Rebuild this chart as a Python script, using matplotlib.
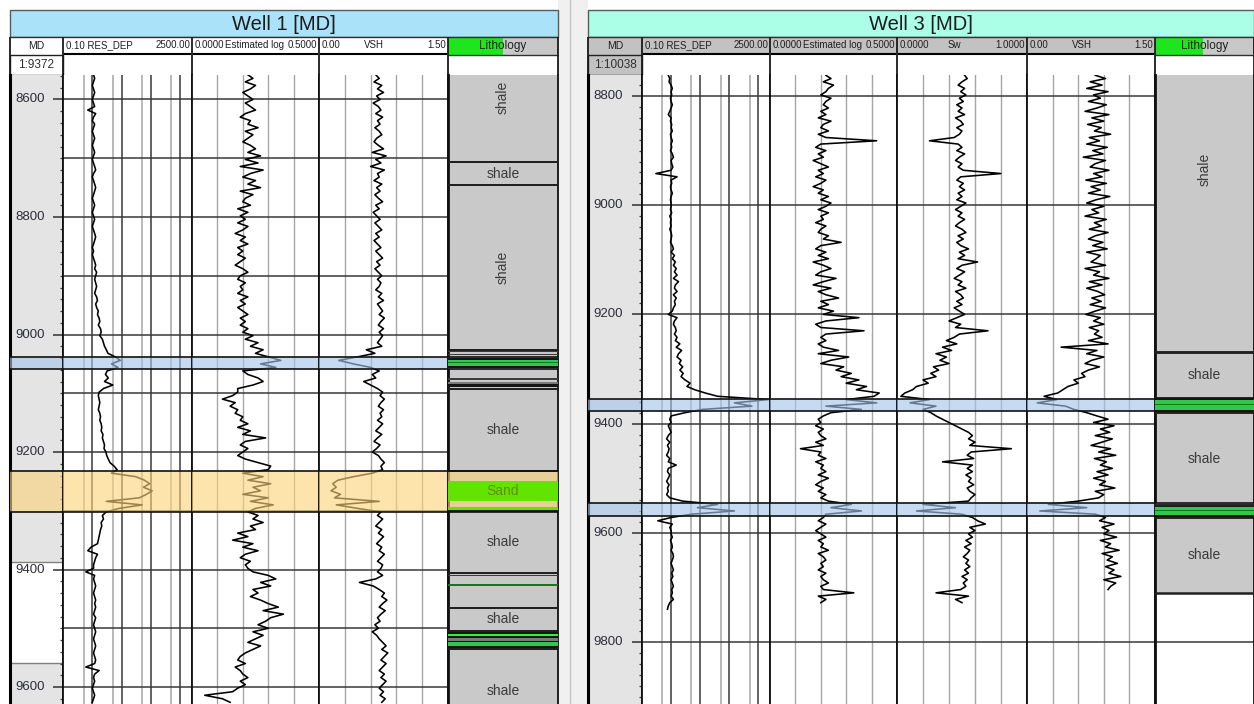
import numpy as np
import matplotlib.pyplot as plt
from matplotlib.patches import Rectangle
from matplotlib.ticker import MultipleLocator

plt.rcParams['font.family'] = ['Liberation Sans', 'DejaVu Sans']

nan = np.nan

# ---------------- Well 1 logs (one sample every 6 ft from 8558 ft) ----------------
w1_depth = list(range(8558, 9632, 6))
w1_res = [
    1.1, 1.2, 1.1, 1.0, 1.1, 1.2, 1.1, 1.0, 1.1, 1.2,
    0.7, 1.3, 1.1, 1.0, 1.2, 1.1, 1.0, 1.1, 1.2, 1.1,
    1.0, 1.1, 1.2, 1.1, 1.0, 1.1, 1.2, 1.3, 1.1, 1.0,
    1.1, 1.2, 1.3, 1.2, 1.1, 1.0, 1.1, 1.2, 1.1, 1.0,
    1.1, 1.2, 1.1, 1.0, 1.1, 1.2, 1.3, 1.2, 1.1, 1.0,
    1.1, 1.0, 1.1, 1.2, 1.3, 1.2, 1.4, 1.3, 1.2, 1.3,
    1.4, 1.3, 1.2, 1.4, 1.5, 1.3, 1.4, 1.6, 1.5, 1.7,
    1.8, 1.6, 1.9, 2.0, 1.8, 2.2, 2.4, 2.6, 3.0, 3.4,
    6.0, 9.0, 4.5, 7.5, 3.2, 2.8, 3.5, 2.6, 5.0, 2.4,
    1.7, 1.6, 1.7, 1.8, 1.7, 1.6, 1.8, 1.9, 1.8, 2.0,
    2.1, 2.0, 2.3, 2.2, 2.4, 2.6, 2.5, 2.9, 3.1, 3.5,
    4.0, 5.5, 7.0, 4.5, 30, 60, 90, 55, 110, 70,
    40, 3.0, 50, 8.0, 3.0, 2.2, 2.4, 2.0, 2.1, 1.9,
    1.8, 1.7, 1.6, 1.5, 0.9, 0.7, 1.5, 1.3, 1.2, 1.1,
    1.1, 0.6, 1.2, 1.1, 1.2, 1.3, 1.2, 1.1, 1.2, 1.3,
    1.2, 1.3, 1.2, 1.1, 1.3, 1.2, 1.1, 1.2, 1.3, 1.2,
    1.1, 1.2, 1.3, 1.2, 1.1, 1.2, 1.3, 1.2, 0.6, 1.7,
    1.2, 1.1, 1.2, 1.1, 1.0, 1.1, 1.2, 1.1, 1.0,
]
w1_est = [
    0.22, 0.24, 0.21, 0.25, 0.23, 0.20, 0.22, 0.24, 0.21, 0.23,
    0.25, 0.21, 0.19, 0.23, 0.22, 0.26, 0.21, 0.24, 0.22, 0.20,
    0.23, 0.25, 0.22, 0.27, 0.21, 0.26, 0.19, 0.28, 0.23, 0.20,
    0.25, 0.22, 0.27, 0.19, 0.24, 0.21, 0.20, 0.23, 0.18, 0.22,
    0.19, 0.21, 0.18, 0.22, 0.20, 0.17, 0.21, 0.19, 0.22, 0.18,
    0.20, 0.18, 0.21, 0.19, 0.17, 0.20, 0.22, 0.19, 0.18, 0.21,
    0.19, 0.20, 0.18, 0.22, 0.19, 0.21, 0.18, 0.20, 0.22, 0.19,
    0.21, 0.19, 0.22, 0.20, 0.24, 0.21, 0.26, 0.23, 0.28, 0.25,
    0.30, 0.35, 0.27, 0.33, 0.20, 0.22, 0.26, 0.28, 0.24, 0.18,
    0.18, 0.16, 0.12, 0.17, 0.15, 0.18, 0.17, 0.20, 0.19, 0.22,
    0.18, 0.23, 0.20, 0.29, 0.21, 0.19, 0.22, 0.20, 0.18, 0.21,
    0.26, 0.31, 0.30, 0.20, 0.28, 0.22, 0.31, 0.24, 0.27, 0.20,
    0.30, 0.23, 0.32, 0.25, 0.22, 0.26, 0.24, 0.28, 0.23, 0.25,
    0.18, 0.22, 0.16, 0.24, 0.20, 0.26, 0.21, 0.19, 0.23, 0.21,
    0.22, 0.24, 0.30, 0.33, 0.27, 0.31, 0.24, 0.26, 0.23, 0.27,
    0.30, 0.34, 0.28, 0.36, 0.31, 0.29, 0.26, 0.30, 0.24, 0.28,
    0.25, 0.22, 0.27, 0.24, 0.21, 0.19, 0.18, 0.21, 0.17, 0.19,
    0.20, 0.22, 0.19, 0.21, 0.18, 0.16, 0.05, 0.12, 0.15,
]
w1_vsh = [
    0.66, 0.70, 0.64, 0.73, 0.68, 0.75, 0.67, 0.71, 0.63, 0.69,
    0.72, 0.66, 0.74, 0.68, 0.71, 0.65, 0.70, 0.73, 0.67, 0.64,
    0.69, 0.75, 0.62, 0.78, 0.66, 0.72, 0.60, 0.76, 0.68, 0.70,
    0.64, 0.73, 0.67, 0.71, 0.65, 0.69, 0.74, 0.66, 0.70, 0.63,
    0.67, 0.71, 0.65, 0.69, 0.73, 0.66, 0.70, 0.64, 0.68, 0.72,
    0.66, 0.70, 0.74, 0.67, 0.71, 0.65, 0.69, 0.73, 0.68, 0.72,
    0.70, 0.66, 0.73, 0.69, 0.75, 0.68, 0.71, 0.74, 0.70, 0.76,
    0.72, 0.69, 0.75, 0.70, 0.74, 0.71, 0.68, 0.73, 0.55, 0.65,
    0.45, 0.23, 0.40, 0.60, 0.70, 0.62, 0.66, 0.52, 0.60, 0.68,
    0.74, 0.71, 0.76, 0.72, 0.69, 0.75, 0.71, 0.73, 0.68, 0.74,
    0.70, 0.66, 0.73, 0.68, 0.64, 0.71, 0.67, 0.62, 0.69, 0.72,
    0.76, 0.72, 0.74, 0.62, 0.40, 0.22, 0.16, 0.20, 0.14, 0.25,
    0.18, 0.70, 0.20, 0.45, 0.72, 0.68, 0.74, 0.70, 0.66, 0.73,
    0.69, 0.75, 0.71, 0.67, 0.73, 0.70, 0.76, 0.72, 0.68, 0.74,
    0.72, 0.68, 0.74, 0.66, 0.47, 0.63, 0.70, 0.76, 0.73, 0.79,
    0.74, 0.70, 0.77, 0.72, 0.68, 0.71, 0.65, 0.69, 0.62, 0.67,
    0.70, 0.74, 0.78, 0.73, 0.80, 0.76, 0.72, 0.78, 0.74, 0.70,
    0.76, 0.72, 0.78, 0.74, 0.70, 0.75, 0.71, 0.77, 0.73,
]

# ---------------- Well 3 logs (one sample every 6 ft from 8762 ft) ----------------
w3_depth = list(range(8762, 9746, 6))
w3_res = [
    0.8, 0.9, 0.85, 1.0, 1.1, 1.0, 1.05, 0.95, 1.0, 1.1,
    1.0, 0.9, 0.8, 1.0, 0.95, 1.05, 1.0, 1.1, 0.95, 1.0,
    1.1, 1.0, 1.05, 0.95, 1.1, 1.2, 1.0, 1.05, 1.15, 1.0,
    0.3, 1.6, 1.0, 1.05, 0.95, 1.0, 1.1, 1.0, 0.95, 1.0,
    1.0, 0.95, 1.05, 0.9, 1.0, 0.95, 1.0, 0.9, 1.0, 1.05,
    1.0, 0.95, 1.1, 1.2, 1.0, 1.3, 1.1, 1.4, 1.2, 1.5,
    1.3, 1.6, 1.2, 1.8, 1.4, 1.3, 1.6, 1.2, 1.5, 1.3,
    1.4, 1.2, 1.1, 0.8, 1.6, 1.3, 1.2, 1.4, 1.5, 1.3,
    1.6, 1.4, 2.0, 1.5, 2.3, 1.8, 1.6, 2.2, 1.9, 2.5,
    2.0, 2.6, 2.2, 3.0, 4.5, 3.5, 6.5, 15, 40, 2200,
    150, 600, 12, 3.0, 1.0, 0.9, 1.0, 0.8, 0.9, 1.0,
    0.8, 0.7, 0.9, 0.75, 0.85, 0.8, 0.7, 0.9, 0.8, 1.5,
    0.8, 0.75, 0.9, 0.8, 0.7, 0.85, 0.75, 0.8, 0.7, 0.9,
    2.5, 40, 8, 150, 5, 1.0, 0.35, 1.1, 0.9, 1.0,
    1.0, 1.1, 0.95, 1.05, 1.1, 1.0, 1.15, 1.2, 1.1, 1.0,
    1.1, 1.2, 1.05, 1.15, 1.0, 1.1, 1.2, 1.05, 1.1, 1.0,
    1.2, 0.9, 0.8, 0.75,
]
w3_est = [
    0.22, 0.24, 0.21, 0.25, 0.23, 0.22, 0.20, 0.24, 0.22, 0.21,
    0.23, 0.20, 0.22, 0.19, 0.24, 0.21, 0.20, 0.23, 0.19, 0.22,
    0.42, 0.20, 0.18, 0.22, 0.19, 0.21, 0.17, 0.20, 0.23, 0.19,
    0.21, 0.18, 0.22, 0.20, 0.17, 0.21, 0.19, 0.23, 0.20, 0.24,
    0.22, 0.19, 0.23, 0.20, 0.21, 0.18, 0.22, 0.20, 0.19, 0.23,
    0.21, 0.28, 0.20, 0.18, 0.22, 0.19, 0.23, 0.17, 0.21, 0.24,
    0.20, 0.18, 0.26, 0.21, 0.17, 0.24, 0.19, 0.22, 0.27, 0.20,
    0.23, 0.19, 0.25, 0.21, 0.35, 0.22, 0.18, 0.20, 0.37, 0.22,
    0.20, 0.22, 0.19, 0.21, 0.27, 0.19, 0.31, 0.24, 0.20, 0.29,
    0.26, 0.32, 0.28, 0.35, 0.30, 0.38, 0.34, 0.43, 0.41, 0.30,
    0.42, 0.22, 0.36, 0.24, 0.21, 0.19, 0.20, 0.18, 0.21, 0.19,
    0.20, 0.22, 0.18, 0.21, 0.12, 0.20, 0.19, 0.22, 0.18, 0.21,
    0.20, 0.22, 0.19, 0.23, 0.20, 0.18, 0.21, 0.19, 0.22, 0.20,
    0.23, 0.32, 0.24, 0.36, 0.22, 0.21, 0.19, 0.22, 0.20, 0.18,
    0.20, 0.22, 0.19, 0.21, 0.20, 0.23, 0.19, 0.21, 0.22, 0.20,
    0.21, 0.19, 0.22, 0.20, 0.21, 0.23, 0.20, 0.21, 0.33, 0.19,
    0.22, 0.20, nan, nan,
]
w3_sw = [
    0.52, 0.54, 0.50, 0.47, 0.52, 0.49, 0.53, 0.48, 0.51, 0.46,
    0.50, 0.47, 0.52, 0.45, 0.49, 0.51, 0.46, 0.50, 0.48, 0.44,
    0.25, 0.47, 0.50, 0.46, 0.52, 0.48, 0.45, 0.50, 0.47, 0.51,
    0.80, 0.49, 0.46, 0.51, 0.48, 0.52, 0.47, 0.50, 0.46, 0.53,
    0.49, 0.45, 0.50, 0.47, 0.52, 0.48, 0.45, 0.50, 0.53, 0.47,
    0.51, 0.46, 0.49, 0.55, 0.48, 0.52, 0.47, 0.62, 0.50, 0.46,
    0.52, 0.48, 0.44, 0.50, 0.47, 0.53, 0.45, 0.49, 0.51, 0.46,
    0.50, 0.44, 0.48, 0.52, 0.46, 0.40, 0.49, 0.45, 0.70, 0.48,
    0.44, 0.38, 0.46, 0.35, 0.42, 0.30, 0.38, 0.33, 0.40, 0.28,
    0.32, 0.26, 0.30, 0.20, 0.24, 0.15, 0.12, 0.06, 0.03, 0.25,
    0.10, 0.30, 0.20, 0.26, 0.30, 0.35, 0.40, 0.45, 0.50, 0.55,
    0.58, 0.55, 0.60, 0.56, 0.88, 0.57, 0.54, 0.59, 0.35, 0.58,
    0.54, 0.58, 0.53, 0.57, 0.55, 0.59, 0.54, 0.56, 0.60, 0.57,
    0.55, 0.20, 0.45, 0.15, 0.50, 0.58, 0.62, 0.68, 0.56, 0.60,
    0.55, 0.58, 0.53, 0.57, 0.52, 0.56, 0.54, 0.51, 0.55, 0.53,
    0.56, 0.52, 0.55, 0.50, 0.54, 0.51, 0.53, 0.49, 0.30, 0.55,
    0.45, 0.50, nan, nan,
]
w3_vsh = [
    0.80, 0.92, 0.74, 0.88, 0.70, 0.95, 0.78, 0.86, 0.72, 0.93,
    0.82, 0.68, 0.96, 0.76, 0.90, 0.71, 0.87, 0.79, 0.98, 0.73,
    0.85, 0.70, 0.94, 0.77, 0.89, 0.66, 0.92, 0.80, 0.74, 0.96,
    0.78, 0.88, 0.69, 0.93, 0.75, 0.86, 0.72, 0.97, 0.81, 0.70,
    0.90, 0.76, 0.84, 0.68, 0.93, 0.79, 0.87, 0.73, 0.95, 0.80,
    0.72, 0.89, 0.77, 0.94, 0.70, 0.86, 0.81, 0.75, 0.92, 0.68,
    0.85, 0.78, 0.96, 0.73, 0.88, 0.70, 0.83, 0.91, 0.76, 0.87,
    0.74, 0.92, 0.80, 0.69, 0.86, 0.78, 0.90, 0.73, 0.84, 0.79,
    0.88, 0.72, 0.95, 0.40, 0.82, 0.70, 0.90, 0.76, 0.68, 0.85,
    0.72, 0.64, 0.68, 0.55, 0.60, 0.48, 0.42, 0.36, 0.20, 0.35,
    0.12, 0.45, 0.55, 0.70, 0.82, 0.95, 0.78, 1.02, 0.86, 0.97,
    0.80, 1.00, 0.88, 0.75, 0.98, 0.84, 1.04, 0.79, 0.93, 0.86,
    1.00, 0.82, 0.95, 0.78, 0.92, 0.85, 1.03, 0.80, 0.90, 0.84,
    0.60, 0.25, 0.70, 0.15, 0.80, 0.92, 0.85, 1.02, 0.88, 0.96,
    0.90, 1.05, 0.86, 0.98, 0.92, 1.08, 0.88, 1.00, 0.94, 1.06,
    0.92, 1.02, 0.96, 1.10, 0.90, 1.04, 0.98, 0.95, nan, nan,
    nan, nan, nan, nan,
]

# ---------------- lithology columns ----------------
w1_lith_top = [8488, 8706, 8746, 9026, 9092, 9232, 9301, 9406, 9466, 9504, 9536]
w1_lith_base = [8706, 8746, 9026, 9092, 9232, 9301, 9406, 9466, 9504, 9536, 9676]
w1_lith_name = ['shale', 'shale', 'shale', '', 'shale', 'Sand', 'shale', '', 'shale', '', 'shale']

w1_bed_top = [9028, 9033, 9040, 9043, 9047, 9049, 9054, 9074, 9081, 9085,
              9249, 9293, 9410, 9425, 9506, 9509, 9513, 9516, 9521, 9524, 9530]
w1_bed_base = [9030, 9035, 9043, 9047, 9049, 9054, 9057, 9078, 9084, 9089,
               9284, 9299, 9411, 9428, 9509, 9513, 9516, 9521, 9524, 9530, 9534]
w1_bed_type = ['dark', 'dark', 'black', 'green', 'dkgreen', 'green', 'black', 'dark', 'mid', 'black',
               'sand', 'sand', 'dark', 'dkgreen', 'black', 'lime', 'black', 'mid', 'black', 'green', 'black']

w3_lith_top = [8601, 9269, 9353, 9379, 9549, 9571]
w3_lith_base = [9269, 9353, 9379, 9549, 9571, 9710]
w3_lith_name = ['shale', 'shale', '', 'shale', '', 'shale']

w3_bed_top = [9353, 9356, 9364, 9366, 9375, 9549, 9552, 9558, 9560, 9568]
w3_bed_base = [9356, 9364, 9366, 9375, 9379, 9552, 9558, 9560, 9568, 9571]
w3_bed_type = ['black', 'green', 'dkgreen', 'green', 'black',
               'black', 'green', 'dkgreen', 'green', 'black']

# highlighted zones
w1_zone_top = [9038, 9233]
w1_zone_base = [9059, 9302]
w1_zone_kind = ['blue', 'yellow']
w3_zone_top = [9355, 9545]
w3_zone_base = [9377, 9569]
w3_zone_kind = ['blue', 'blue']

# depth labels and shaded depth-column ranges
w1_md_labels = [8600, 8800, 9000, 9200, 9400, 9600]
w3_md_labels = [8800, 9000, 9200, 9400, 9600, 9800]
w1_md_shade = [(8500, 9388), (9559, 9700)]
w3_md_shade = [(8700, 9950)]

BED_COLORS = {'black': '#151515', 'dark': '#3c3c3c', 'mid': '#7a7a7a', 'green': '#2fc84a',
              'dkgreen': '#0f7a1e', 'lime': '#33f033', 'sand': '#62e400'}
ZONE_COLORS = {'blue': '#a4c6ea', 'yellow': '#fcd27a'}

W, H = 1254, 704
TOP = 75

fig = plt.figure(figsize=(W / 100, H / 100), dpi=100)
frame = fig.add_axes([0, 0, 1, 1], zorder=0)
frame.set_xlim(0, W)
frame.set_ylim(H, 0)
frame.axis('off')
frame.add_patch(Rectangle((558, 0), 30, H, fc='#f0f0f0', ec='none'))
frame.plot([570, 570], [0, H], color='#c4c4c4', lw=1)


def px_axes(x0, x1, y0=TOP, y1=H):
    return fig.add_axes([x0 / W, 1 - y1 / H, (x1 - x0) / W, (y1 - y0) / H], zorder=1)


def style_track(ax, dtop, dbot, step):
    ax.set_ylim(dbot, dtop)
    ax.yaxis.set_major_locator(MultipleLocator(step))
    ax.grid(True, which='major', axis='y', color='#383838', lw=1.1)
    for s in ('top', 'bottom'):
        ax.spines[s].set_visible(False)
    for s in ('left', 'right'):
        ax.spines[s].set_color('#101010')
        ax.spines[s].set_linewidth(1.3)
    ax.set_axisbelow(True)


def curve_track(x0, x1, depth, values, lo, hi, dtop, dbot, step, log=False):
    ax = px_axes(x0, x1)
    if log:
        ax.set_xscale('log')
    ax.set_xlim(lo, hi)
    style_track(ax, dtop, dbot, step)
    if log:
        ax.set_xticks([1, 10, 100, 1000])
        ax.set_xticks([0.5, 5, 50, 500], minor=True)
        ax.grid(True, which='major', axis='x', color='#383838', lw=1.1)
        ax.grid(True, which='minor', axis='x', color='#a6a6a6', lw=1.1)
    else:
        ax.set_xticks(np.linspace(lo, hi, 6)[1:-1])
        ax.grid(True, which='major', axis='x', color='#a6a6a6', lw=1.0)
    ax.tick_params(which='both', length=0, labelbottom=False, labelleft=False)
    ax.plot(values, depth, color='black', lw=1.15, zorder=2)
    return ax


def depth_track(x0, x1, dtop, dbot, labels, shade, label_x):
    ax = px_axes(x0, x1)
    ax.set_xlim(0, 1)
    ax.set_ylim(dbot, dtop)
    for a, b in shade:
        ax.axhspan(a, b, color='#e4e4e4', lw=0, zorder=0.5)
    # edges of the unshaded gap between shaded ranges
    for (a0, b0), (a1, b1) in zip(shade[:-1], shade[1:]):
        ax.axhline(b0, color='#808080', lw=1.0, zorder=1)
        ax.axhline(a1, color='#808080', lw=1.0, zorder=1)
    ax.yaxis.tick_right()
    ax.yaxis.set_major_locator(MultipleLocator(200))
    ax.yaxis.set_minor_locator(MultipleLocator(20))
    ax.tick_params(axis='y', which='major', direction='in', length=7.5, width=1.1,
                   color='#303030', labelright=False)
    ax.tick_params(axis='y', which='minor', direction='in', length=2.5, width=0.9, color='#404040')
    ax.tick_params(axis='x', length=0, labelbottom=False)
    for d in labels:
        ax.text(label_x, d, str(d), transform=ax.get_yaxis_transform(), ha='left', va='center',
                fontsize=9.5, color='#2e2e3a', clip_on=True)
    for s in ('top', 'bottom'):
        ax.spines[s].set_visible(False)
    ax.spines['left'].set_linewidth(2.2)
    ax.spines['right'].set_linewidth(1.3)
    return ax


def lith_track(x0, x1, dtop, dbot, step, tops, bases, names, btops, bbases, btypes, edge_lw):
    ax = px_axes(x0, x1)
    ax.set_xlim(0, 1)
    style_track(ax, dtop, dbot, step)
    ax.tick_params(which='both', length=0, labelbottom=False, labelleft=False)
    ax.spines['left'].set_linewidth(2.0)
    for t, b in zip(tops, bases):
        ax.axhspan(t, b, color='#c9c9c9', lw=0, zorder=1)
    # thin beds stay vivid on top of the zone tint
    for t, b, k in zip(btops, bbases, btypes):
        ax.axhspan(t, b, color=BED_COLORS[k], lw=0, zorder=3.5)
    for t, b, name in zip(tops, bases, names):
        ax.axhline(t, color='#202020', lw=edge_lw, zorder=4)
        ax.axhline(b, color='#202020', lw=edge_lw, zorder=4)
        if name:
            ax.text(0.5, (t + b) / 2, name, ha='center', va='center',
                    rotation=90 if b - t > 200 else 0, fontsize=10,
                    color='#6b8a00' if name == 'Sand' else '#3a3a3a',
                    zorder=5, clip_on=True)
    return ax


def highlight(axes, tops, bases, kinds):
    for ax in axes:
        for t, b, k in zip(tops, bases, kinds):
            ax.axhspan(t, b, facecolor=ZONE_COLORS[k], alpha=0.62, lw=0, zorder=3)
            ax.axhline(t, color='#111111', lw=1.2, zorder=4)
            ax.axhline(b, color='#111111', lw=1.2, zorder=4)


def heading(edges, title, title_bg, head_bg, md_bg, scale_text, green_to, specs):
    xl, xr = edges[0], edges[-1]
    lx = edges[-2]
    frame.add_patch(Rectangle((xl, 10), xr - xl, 27, fc=title_bg, ec='#5a5a5a', lw=1.0))
    frame.text((xl + xr) / 2, 24.5, title, ha='center', va='center', fontsize=14.5, color='#1c1c1c')
    frame.add_patch(Rectangle((xl, 37), lx - xl, 18, fc=head_bg, ec='none'))
    frame.add_patch(Rectangle((lx, 37), green_to - lx, 18, fc='#1ee61e', ec='none'))
    frame.add_patch(Rectangle((green_to, 37), xr - green_to, 18, fc='#c8c8c8', ec='none'))
    frame.add_patch(Rectangle((xl, 55), edges[1] - xl, 20, fc=md_bg, ec='#202020', lw=1.0))
    frame.text((xl + edges[1]) / 2, 46, 'MD', ha='center', va='center', fontsize=7.5, color='#202020')
    frame.text((xl + edges[1]) / 2, 65, scale_text, ha='center', va='center', fontsize=8.5, color='#303030')
    frame.text((lx + xr) / 2, 46, 'Lithology', ha='center', va='center', fontsize=8.5, color='#202020')
    for x0, x1, (lt, name, frac, rt) in zip(edges[1:-2], edges[2:-1], specs):
        frame.text(x0 + 3, 45.5, lt, ha='left', va='center', fontsize=7.0, color='#202020')
        if name:
            frame.text(x0 + frac * (x1 - x0), 45.5, name, ha='left', va='center',
                       fontsize=7.0, color='#202020')
        frame.text(x1 - 2, 45.5, rt, ha='right', va='center', fontsize=7.0, color='#202020')
        frame.plot([x0 + 2, x1 - 2], [53.5, 53.5], color='black', lw=1.5)
    frame.hlines([37], xl, xr, colors='#303030', lw=1.0)
    frame.hlines([55], lx, xr, colors='#303030', lw=1.0)
    frame.vlines(edges, 37, 75, colors='#1a1a1a', lw=1.3)


# ---------------- Well 1 ----------------
w1_edges = [10, 63, 192, 319, 448, 558]
w1_top, w1_bot = 8558.3, 9628.9
heading(w1_edges, 'Well 1 [MD]', '#aae2fa', 'white', 'white', '1:9372', 503,
        [('0.10 RES_DEP', '', 0, '2500.00'),
         ('0.0000', 'Estimated log', 0.26, '0.5000'),
         ('0.00', 'VSH', 0.35, '1.50')])

w1_axes = [depth_track(10, 63, w1_top, w1_bot, w1_md_labels, w1_md_shade, 0.1)]
w1_axes.append(curve_track(63, 192, w1_depth, w1_res, 0.1, 2500, w1_top, w1_bot, 100, log=True))
w1_axes.append(curve_track(192, 319, w1_depth, w1_est, 0.0, 0.5, w1_top, w1_bot, 100))
w1_axes.append(curve_track(319, 448, w1_depth, w1_vsh, 0.0, 1.5, w1_top, w1_bot, 100))
w1_axes.append(lith_track(448, 558, w1_top, w1_bot, 100, w1_lith_top, w1_lith_base, w1_lith_name,
                          w1_bed_top, w1_bed_base, w1_bed_type, 1.3))
highlight(w1_axes, w1_zone_top, w1_zone_base, w1_zone_kind)

# ---------------- Well 3 ----------------
w3_edges = [588, 642, 770, 897, 1027, 1155, 1254]
w3_top, w3_bot = 8761.5, 9913.6
heading(w3_edges, 'Well 3 [MD]', '#aaffe6', '#c2c2c2', '#c2c2c2', '1:10038', 1203,
        [('0.10 RES_DEP', '', 0, '2500.00'),
         ('0.0000', 'Estimated log', 0.26, '0.5000'),
         ('0.0000', 'Sw', 0.39, '1.0000'),
         ('0.00', 'VSH', 0.35, '1.50')])

w3_axes = [depth_track(588, 642, w3_top, w3_bot, w3_md_labels, w3_md_shade, 0.1)]
w3_axes.append(curve_track(642, 770, w3_depth, w3_res, 0.1, 2500, w3_top, w3_bot, 200, log=True))
w3_axes.append(curve_track(770, 897, w3_depth, w3_est, 0.0, 0.5, w3_top, w3_bot, 200))
w3_axes.append(curve_track(897, 1027, w3_depth, w3_sw, 0.0, 1.0, w3_top, w3_bot, 200))
w3_axes.append(curve_track(1027, 1155, w3_depth, w3_vsh, 0.0, 1.5, w3_top, w3_bot, 200))
w3_axes.append(lith_track(1155, 1254, w3_top, w3_bot, 200, w3_lith_top, w3_lith_base, w3_lith_name,
                          w3_bed_top, w3_bed_base, w3_bed_type, 1.8))
highlight(w3_axes, w3_zone_top, w3_zone_base, w3_zone_kind)

fig.savefig('out.png', dpi=100)
